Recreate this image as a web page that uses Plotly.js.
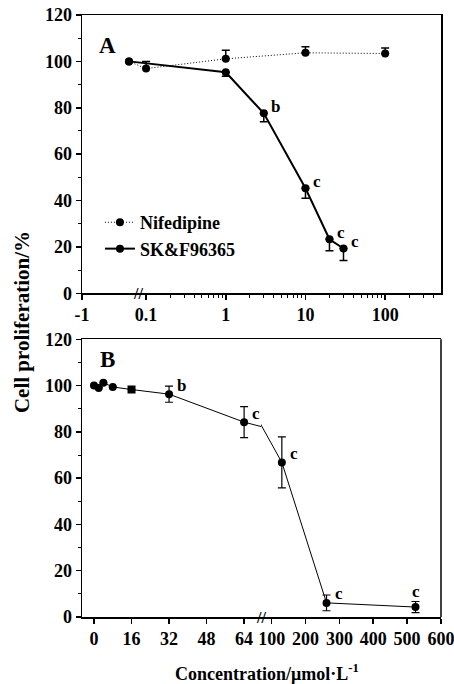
<!DOCTYPE html>
<html>
<head>
<meta charset="utf-8">
<script src="https://cdn.plot.ly/plotly-3.0.1.min.js"></script>
<style>html,body{margin:0;padding:0;background:#fff;}#chart{width:454px;height:684px;}</style>
</head>
<body>
<div id="chart"></div>
<script>
// ---------- Panel A data (log concentration axis; control drawn left of break) ----------
const controlPos = 0.061;
const nifX = [controlPos, 0.1, 1, 10, 100];
const nifY = [100, 96.9, 101.1, 103.7, 103.4];
const nifErrUp = [0, 3, 3.7, 2.6, 2.4];

const skX = [controlPos, 1, 3, 10, 20, 30];
const skY = [100, 95.3, 77.6, 45.3, 23.3, 19.3];
const skErrDown = [0, 1.7, 3.6, 4.3, 4.9, 5.2];
const skSig = ['', '', 'b', 'c', 'c', 'c'];

const aTickVals = [0.01575, 0.1, 1, 10, 100];
const aTickText = ['-1', '0.1', '1', '10', '100'];
const aMinor = [0.2,0.3,0.4,0.5,0.6,0.7,0.8,0.9,2,3,4,5,6,7,8,9,20,30,40,50,60,70,80,90,200,300,400];

// ---------- Panel B data (SK&F96365, linear axis with break) ----------
const bX = [0, 2, 4, 8, 16, 32, 64, 130, 262, 525];
const bY = [100, 99, 101.2, 99.4, 98.3, 96.3, 84.2, 66.8, 6.1, 4.3];
const bErr = [0, 0, 0, 0, 0, 3.5, 6.7, 11, 3.4, 2.4];
const bSig = ['', '', '', '', '', 'b', 'c', 'c', 'c', 'c'];
const bSym = ['circle','circle','circle','circle','square','circle','circle','circle','circle','circle'];
const bTicks1 = [0, 16, 32, 48, 64];
const bTicks2 = [100, 200, 300, 400, 500, 600];
const yTicks = [0, 20, 40, 60, 80, 100, 120];

// ---------- layout constants ----------
const seg1Max = 71.2, seg2Min = 68.4;
const FONT = 'Liberation Serif, Times New Roman, serif';
const tickFont = {family: FONT, size: 18, color: '#000', weight: 'bold'};
const blk = '#000';

const traces = [];
traces.push({
  x: nifX, y: nifY, xaxis: 'x', yaxis: 'y', type: 'scatter', mode: 'lines+markers',
  name: 'Nifedipine',
  line: {color: blk, width: 1, dash: '1px,2px'},
  marker: {color: blk, size: 8},
  error_y: {type: 'data', symmetric: false, array: nifErrUp, arrayminus: nifErrUp.map(() => 0),
            color: blk, thickness: 1.5, width: 4}
});
traces.push({
  x: skX, y: skY, xaxis: 'x', yaxis: 'y', type: 'scatter', mode: 'lines+markers',
  name: 'SK&F96365',
  line: {color: blk, width: 2},
  marker: {color: blk, size: 8},
  error_y: {type: 'data', symmetric: false, array: skErrDown.map(() => 0), arrayminus: skErrDown,
            color: blk, thickness: 1.5, width: 4}
});

// Panel B split into two axis segments
const idx1 = bX.map((v, i) => i).filter(i => bX[i] <= seg1Max);
const idx2 = bX.map((v, i) => i).filter(i => bX[i] >= seg2Min);
const line1 = idx1.concat([idx2[0]]);
const line2 = [idx1[idx1.length - 1]].concat(idx2);
const pick = (arr, ids) => ids.map(i => arr[i]);

traces.push({x: pick(bX, line1), y: pick(bY, line1), xaxis: 'x3', yaxis: 'y2', mode: 'lines',
  line: {color: blk, width: 1}, showlegend: false, hoverinfo: 'skip'});
traces.push({x: pick(bX, line2), y: pick(bY, line2), xaxis: 'x4', yaxis: 'y2', mode: 'lines',
  line: {color: blk, width: 1}, showlegend: false, hoverinfo: 'skip'});
traces.push({x: pick(bX, idx1), y: pick(bY, idx1), xaxis: 'x3', yaxis: 'y2', mode: 'markers',
  marker: {color: blk, size: 8, symbol: pick(bSym, idx1)}, showlegend: false,
  error_y: {type: 'data', array: pick(bErr, idx1), color: blk, thickness: 1.2, width: 4}});
traces.push({x: pick(bX, idx2), y: pick(bY, idx2), xaxis: 'x4', yaxis: 'y2', mode: 'markers',
  marker: {color: blk, size: 8, symbol: pick(bSym, idx2)}, showlegend: false,
  error_y: {type: 'data', array: pick(bErr, idx2), color: blk, thickness: 1.2, width: 4}});

// annotations
const sigFont = {family: FONT, size: 17, color: blk, weight: 'bold'};
const C = {xanchor: 'center', yanchor: 'middle', showarrow: false};
const ann = [];
skX.forEach((x, i) => {
  if (skSig[i]) ann.push(Object.assign({xref: 'x', yref: 'y', x: Math.log10(x), y: skY[i], text: skSig[i],
    xshift: 12, yshift: 7, font: sigFont}, C));
});
bX.forEach((x, i) => {
  if (!bSig[i]) return;
  const last = i === bX.length - 1;
  ann.push(Object.assign({xref: x <= seg1Max ? 'x3' : 'x4', yref: 'y2', x: x, y: bY[i], text: bSig[i],
    xshift: last ? 0 : 12, yshift: last ? 16 : 9, font: sigFont}, C));
});
ann.push(Object.assign({xref: 'paper', yref: 'paper', x: 0.072, y: 0.95, text: 'A',
  font: {family: FONT, size: 23, color: blk, weight: 'bold'}}, C));
ann.push(Object.assign({xref: 'paper', yref: 'paper', x: 0.07, y: 0.427, text: 'B',
  font: {family: FONT, size: 23, color: blk, weight: 'bold'}}, C));
// axis break marks
ann.push(Object.assign({xref: 'paper', yref: 'paper', x: 0.155, y: 0.5377, text: '//',
  font: {family: FONT, size: 16, color: blk, weight: 'bold'}}, C));
ann.push(Object.assign({xref: 'paper', yref: 'paper', x: 0.4986, y: 0.0, text: '//',
  font: {family: FONT, size: 16, color: blk, weight: 'bold'}}, C));
// axis titles
ann.push(Object.assign({xref: 'paper', yref: 'paper', x: -0.167, y: 0.49, text: 'Cell proliferation/%',
  textangle: -90, font: {family: FONT, size: 21, color: blk, weight: 'bold'}}, C));
ann.push(Object.assign({xref: 'paper', yref: 'paper', x: 0.515, y: -0.0914, text: 'Concentration/μmol·L<sup>-1</sup>',
  font: {family: FONT, size: 18, color: blk, weight: 'bold'}}, C));

const yBase = {
  range: [0, 120], tickvals: yTicks, ticks: 'outside', ticklen: 5, tickwidth: 1.5, tickcolor: blk,
  showline: true, linewidth: 1.5, linecolor: blk, showgrid: false, zeroline: false,
  tickfont: tickFont, minor: {dtick: 10, ticks: 'outside', ticklen: 3, tickwidth: 1, tickcolor: blk}
};

const layout = {
  width: 454, height: 684,
  margin: {l: 82, r: 13, t: 15, b: 67},
  paper_bgcolor: '#fff', plot_bgcolor: '#fff',
  showlegend: true,
  legend: {x: 0.05, y: 0.686, xanchor: 'left', yanchor: 'top', bgcolor: 'rgba(0,0,0,0)',
    font: {family: FONT, size: 18, color: blk, weight: 'bold'}, tracegroupgap: 0},
  xaxis: {type: 'log', domain: [0, 1], anchor: 'y',
    range: [Math.log10(0.0157), Math.log10(502)],
    tickmode: 'array', tickvals: aTickVals, ticktext: aTickText,
    ticks: 'outside', ticklen: 5, tickwidth: 1.5, tickcolor: blk,
    minor: {tickmode: 'array', tickvals: aMinor, ticks: 'outside', ticklen: 3, tickwidth: 1, tickcolor: blk},
    showline: true, mirror: true, linewidth: 1.5, linecolor: blk, showgrid: false, zeroline: false,
    tickfont: tickFont},
  yaxis: Object.assign({}, yBase, {domain: [0.5377, 1], anchor: 'x', mirror: true}),
  xaxis3: {domain: [0, 0.4986], anchor: 'y2', range: [-5.12, seg1Max],
    tickmode: 'array', tickvals: bTicks1, ticks: 'outside', ticklen: 5, tickwidth: 1.5, tickcolor: blk,
    showline: true, mirror: true, linewidth: 1.5, linecolor: blk, showgrid: false, zeroline: false,
    tickfont: tickFont},
  xaxis4: {domain: [0.4986, 1], anchor: 'y2', range: [seg2Min, 600.3],
    tickmode: 'array', tickvals: bTicks2, ticks: 'outside', ticklen: 5, tickwidth: 1.5, tickcolor: blk,
    showline: true, mirror: true, linewidth: 1.5, linecolor: blk, showgrid: false, zeroline: false,
    tickfont: tickFont, ticklabeloverflow: 'allow'},
  yaxis2: Object.assign({}, yBase, {domain: [0, 0.4613], anchor: 'x3'}),
  shapes: [{type: 'line', xref: 'x4 domain', yref: 'y2 domain', x0: 1, x1: 1, y0: 0, y1: 1,
    line: {color: blk, width: 1.5}}],
  annotations: ann
};

Plotly.newPlot('chart', traces, layout, {staticPlot: true, displayModeBar: false});
</script>
</body>
</html>
